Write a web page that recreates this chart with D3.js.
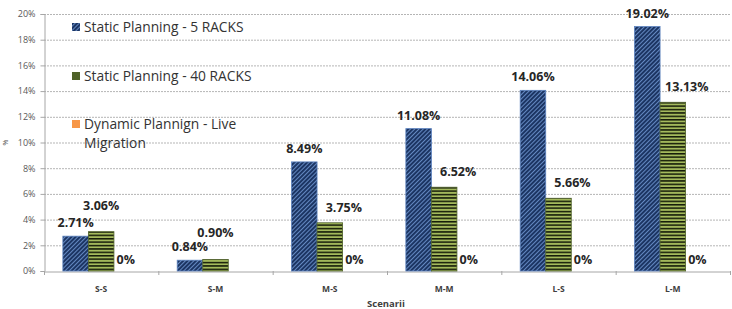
<!DOCTYPE html>
<html>
<head>
<meta charset="utf-8">
<script src="https://cdn.jsdelivr.net/npm/d3@7"></script>
<style>
  body { margin: 0; background: #fff; }
  svg { display: block; }
</style>
</head>
<body>
<svg id="chart" width="732" height="309"></svg>
<script>
// data
const categories = ['S-S', 'S-M', 'M-S', 'M-M', 'L-S', 'L-M']
const seriesNames = ['Static Planning - 5 RACKS', 'Static Planning - 40 RACKS', 'Dynamic Plannign - Live Migration']
const racks5 = [2.71, 0.84, 8.49, 11.08, 14.06, 19.02]
const racks40 = [3.06, 0.90, 3.75, 6.52, 5.66, 13.13]
const liveMigration = [0, 0, 0, 0, 0, 0]
const liveLabelShown = [true, false, true, true, true, true]
const yTicks = [0, 2, 4, 6, 8, 10, 12, 14, 16, 18, 20]

const svg = d3.select('#chart')

// plot box
const plotLeft = 44
const plotRight = 730
const plotTop = 14
const plotBottom = 271

const x = d3.scaleBand().domain(categories).range([plotLeft, plotRight]).paddingInner(0.33).paddingOuter(0.165)
const xs = d3.scaleBand().domain([0, 1, 2]).range([0, x.bandwidth()])
const y = d3.scaleLinear().domain([0, 20]).range([plotBottom, plotTop])

// patterns
const defs = svg.append('defs')
let pb = defs.append('pattern').attr('id', 'hatchBlue')
  .attr('patternUnits', 'userSpaceOnUse').attr('width', 3).attr('height', 3)
  .attr('patternTransform', 'rotate(45)')
pb.append('rect').attr('width', 3).attr('height', 3).attr('fill', '#1c3563')
pb.append('rect').attr('width', 1).attr('height', 3).attr('fill', '#6489c2')

let pg = defs.append('pattern').attr('id', 'stripeGreen')
  .attr('patternUnits', 'userSpaceOnUse').attr('width', 4).attr('height', 3.4)
pg.append('rect').attr('width', 4).attr('height', 3.4).attr('fill', '#a4ba5c')
pg.append('rect').attr('width', 4).attr('height', 1.5).attr('fill', '#141a08')

// gridlines
svg.append('g')
  .selectAll('line')
  .data(yTicks.filter(d => d > 0))
  .enter()
  .append('line')
  .attr('x1', plotLeft).attr('x2', plotRight)
  .attr('y1', d => y(d) + 0.5).attr('y2', d => y(d) + 0.5)
  .attr('stroke', '#b5b5b5')
  .attr('stroke-width', 1)
  .attr('stroke-dasharray', '2,1')

// y axis
let yAxis = svg.append('g')
  .attr('transform', `translate(${plotLeft + 0.5},0)`)
  .call(d3.axisLeft(y).tickValues(yTicks).tickFormat(d => d + '%').tickSize(4).tickPadding(5))
yAxis.select('.domain').attr('stroke', '#a6a6a6')
yAxis.selectAll('.tick line').attr('stroke', '#a6a6a6')
yAxis.selectAll('text')
  .attr('fill', '#595959')
  .style('font-family', '"Open Sans", sans-serif')
  .style('font-size', '9px')

// x axis
let xAxis = svg.append('g')
  .attr('transform', `translate(0,${plotBottom + 0.5})`)
  .call(d3.axisBottom(x).tickSize(0).tickPadding(14))
xAxis.select('.domain').attr('stroke', '#a6a6a6')
xAxis.selectAll('text')
  .attr('fill', '#404040')
  .style('font-family', '"Open Sans", sans-serif')
  .style('font-size', '8.5px')
  .style('font-weight', 'bold')
// category separators
svg.append('g')
  .selectAll('line')
  .data(d3.range(categories.length + 1))
  .enter()
  .append('line')
  .attr('x1', i => plotLeft + i * x.step() + 0.5)
  .attr('x2', i => plotLeft + i * x.step() + 0.5)
  .attr('y1', plotBottom).attr('y2', plotBottom + 4)
  .attr('stroke', '#a6a6a6')

// bars
const series = [
  { values: racks5, fill: 'url(#hatchBlue)', stroke: '#5a80bd' },
  { values: racks40, fill: 'url(#stripeGreen)', stroke: '#4f6228' },
  { values: liveMigration, fill: '#f79646', stroke: 'none' }
]
series.forEach(function (s, si) {
  svg.append('g')
    .selectAll('rect')
    .data(s.values)
    .enter()
    .append('rect')
    .attr('x', (d, i) => x(categories[i]) + xs(si))
    .attr('y', d => y(d))
    .attr('width', xs.bandwidth())
    .attr('height', d => plotBottom - y(d))
    .attr('fill', s.fill)
    .attr('stroke', d => d > 0 ? s.stroke : 'none')
    .attr('stroke-width', 0.8)
})

// value labels
const labelStyle = function (sel) {
  sel.attr('text-anchor', 'middle')
    .attr('fill', '#262626')
    .style('font-family', '"Open Sans", sans-serif')
    .style('font-size', '12.5px')
    .style('font-weight', 'bold')
}
svg.append('g')
  .selectAll('text')
  .data(racks5)
  .enter()
  .append('text')
  .attr('x', (d, i) => x(categories[i]) + xs(0) + xs.bandwidth() / 2)
  .attr('y', d => y(d) - 9)
  .text(d => d.toFixed(2) + '%')
  .call(labelStyle)

svg.append('g')
  .selectAll('text')
  .data(racks40)
  .enter()
  .append('text')
  .attr('x', (d, i) => x(categories[i]) + xs(1) + xs.bandwidth() / 2 + (i < 2 ? 0 : 14))
  .attr('y', (d, i) => y(d) - (i < 2 ? 22 : 11))
  .text(d => d.toFixed(2) + '%')
  .call(labelStyle)

svg.append('g')
  .selectAll('text')
  .data(liveMigration.map((d, i) => ({ d, i })).filter(o => liveLabelShown[o.i]))
  .enter()
  .append('text')
  .attr('x', o => x(categories[o.i]) + xs(2) + xs.bandwidth() / 2 - 1)
  .attr('y', o => y(o.d) - 7)
  .text(o => o.d + '%')
  .call(labelStyle)

// axis titles
svg.append('text')
  .attr('transform', `translate(8,${(plotTop + plotBottom) / 2}) rotate(-90)`)
  .attr('text-anchor', 'middle')
  .attr('fill', '#595959')
  .style('font-family', '"Open Sans", sans-serif')
  .style('font-size', '7px')
  .text('%')

svg.append('text')
  .attr('x', 386)
  .attr('y', 307)
  .attr('text-anchor', 'middle')
  .attr('fill', '#404040')
  .style('font-family', '"Open Sans", sans-serif')
  .style('font-size', '9.5px')
  .style('font-weight', 'bold')
  .text('Scenarii')

// legend
const legendFill = ['url(#hatchBlue)', '#4f6228', '#f79646']
const legendRows = [[seriesNames[0]], [seriesNames[1]], ['Dynamic Plannign - Live', 'Migration']]
const legendY = [27, 76, 124]
legendRows.forEach(function (lines, i) {
  svg.append('rect')
    .attr('x', 72).attr('y', legendY[i] - 4)
    .attr('width', 8).attr('height', 8)
    .attr('fill', legendFill[i])
  let t = svg.append('text')
    .attr('x', 84)
    .attr('y', legendY[i] + 5)
    .attr('fill', '#333')
    .style('font-family', '"Open Sans", sans-serif')
    .style('font-size', '13.8px')
  lines.forEach(function (l, j) {
    t.append('tspan').attr('x', 84).attr('dy', j === 0 ? 0 : 19).text(l)
  })
})
</script>
</body>
</html>
